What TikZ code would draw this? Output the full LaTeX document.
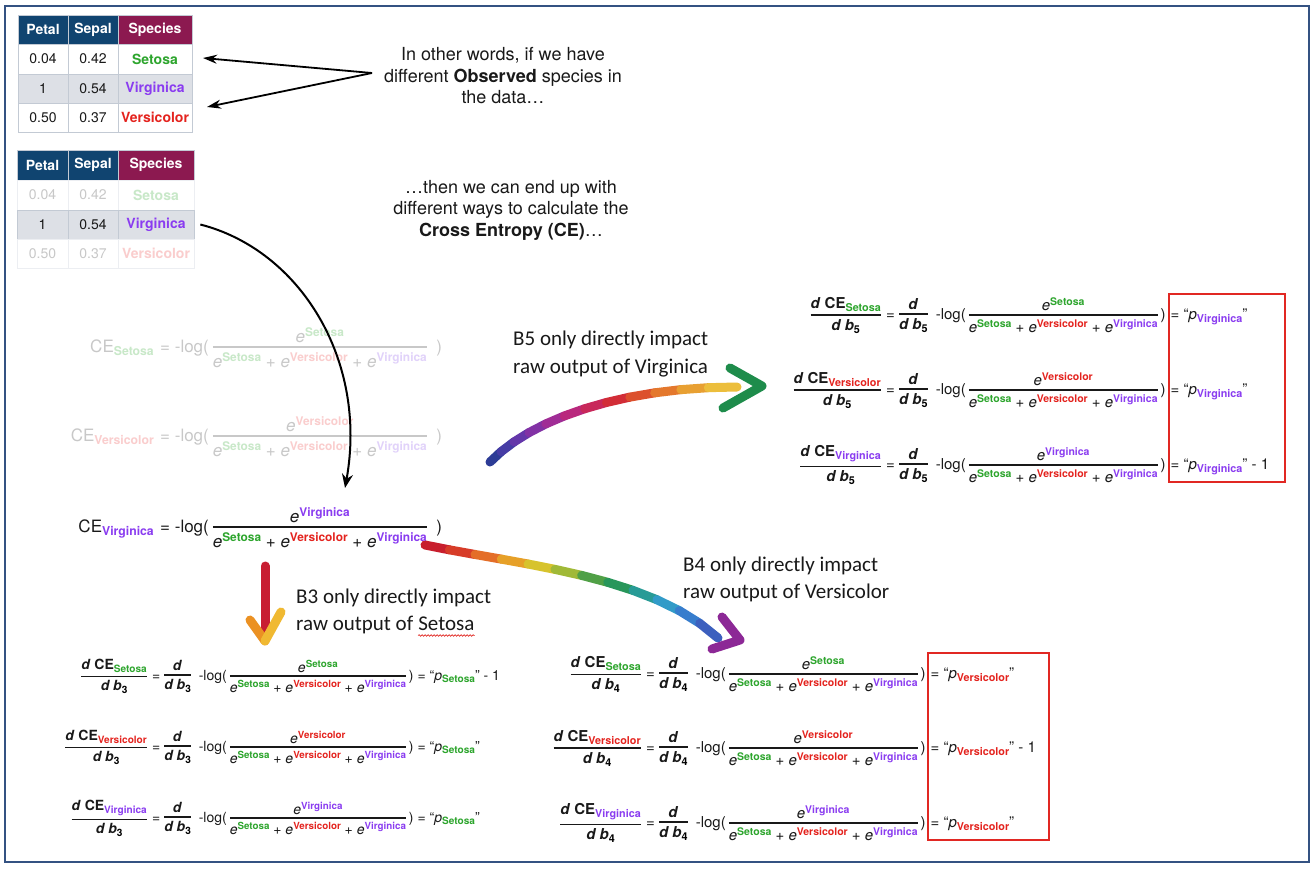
\documentclass[tikz,border=0pt]{standalone}
\usepackage{fontspec}
\setmainfont{TeX Gyre Heros}
\newfontfamily\carl{Carlito}
\usepackage{graphicx}
\usetikzlibrary{arrows.meta,decorations.pathmorphing}

\definecolor{cS}{RGB}{45,165,45}
\definecolor{cVe}{RGB}{228,35,30}
\definecolor{cVi}{RGB}{138,60,240}
\definecolor{cSl}{RGB}{200,232,200}
\definecolor{cVel}{RGB}{250,205,205}
\definecolor{cVil}{RGB}{225,210,250}
\definecolor{fadeg}{RGB}{200,200,200}
\definecolor{hdnavy}{RGB}{16,68,112}
\definecolor{hdmar}{RGB}{140,25,80}
\definecolor{rowg}{RGB}{221,224,230}
\definecolor{cellln}{RGB}{195,202,212}
\definecolor{cellfl}{RGB}{236,238,242}
\definecolor{frameb}{RGB}{52,82,130}
\definecolor{boxred}{RGB}{225,40,35}
\definecolor{txtk}{RGB}{25,25,25}

\newcommand\up[2]{\raisebox{.36em}{\scalebox{.7}{\bfseries\color{#1}#2}}}
\newcommand\dn[2]{\raisebox{-.2em}{\scalebox{.72}{\bfseries\color{#1}#2}}}
\newcommand\ex[2]{\textit{e}\up{#1}{#2}}
\newcommand\den{\ex{cS}{Setosa} + \ex{cVe}{Versicolor} + \ex{cVi}{Virginica}}
\newcommand\fr[2]{$\vcenter{\offinterlineskip\halign{\hfil##\hfil\cr #1\cr\noalign{\kern.22em\hrule height .11em\kern.25em}#2\cr}}$}
\newcommand\faded{\colorlet{cS}{cSl}\colorlet{cVe}{cVel}\colorlet{cVi}{cVil}}
\newcommand\dd{\textbf{\textit{d}}}
\newcommand\ddb[1]{\textbf{\textit{d b}}\dn{black}{#1}}
\newcommand\dCE[3]{\fr{\textbf{\textit{d} CE}\dn{#1}{#2}}{\ddb{#3}}}
% right part of a derivative row: #1 index, #2 numerator, #3 gap before "=", #4 result
\newcommand\drow[4]{= \fr{\dd}{\ddb{#1}}\hspace{4pt} -log(\hspace{3pt}\fr{#2}{\den}\hspace{3pt})\hspace{#3}= #4}
\newcommand\fCE{\fontsize{17}{20}\selectfont}
\newcommand\fD{\fontsize{15}{18}\selectfont}
\newcommand\fDs{\fontsize{14}{17}\selectfont}

\begin{document}
\begin{tikzpicture}[x=1pt,y=-1pt,
  cell/.style={draw=cellln, line width=.7pt, inner sep=0pt, text=txtk, font=\fontsize{14}{16}\selectfont, minimum height=29pt},
  hd/.style={cell, fill=hdnavy, text=white, font=\fontsize{14}{16}\selectfont\bfseries},
  spc/.style={font=\fontsize{14}{16}\selectfont\bfseries},
  fcell/.style={cell, draw=cellfl, text=fadeg},
  blk/.style={line width=1.8pt, -{Stealth[length=14pt,width=9pt]}},
  blkc/.style={line width=2pt, -{Stealth[length=14pt,width=11pt]}},
  eqL/.style={anchor=base east, inner sep=0pt, text=txtk},
  eqR/.style={anchor=base west, inner sep=0pt, text=txtk},
  blab/.style={inner sep=0pt, font=\carl\fontsize{21}{26}\selectfont, text=txtk},
  rb/.style={line width=9pt, line cap=round},
  rbh/.style={line width=9pt, line cap=round, line join=round},
  redbox/.style={draw=boxred, line width=2.2pt}]

\useasboundingbox (0,0) rectangle (1315,868);
\fill[white] (0,0) rectangle (1315,868);
\draw[frameb, line width=2.4pt] (5,6) rectangle (1309,862);

% ---------- table 1
\node[hd, minimum width=50pt] (a00) at (43,29.5) {Petal};
\node[hd, minimum width=50pt] (a01) at (93,29.5) {Sepal};
\node[hd, fill=hdmar, minimum width=74pt] (a02) at (155,29.5) {Species};
\node[cell, minimum width=50pt, minimum height=30pt] (a10) at (43,59) {0.04};
\node[cell, minimum width=50pt, minimum height=30pt] (a11) at (93,59) {0.42};
\node[cell, spc, text=cS, minimum width=74pt, minimum height=30pt] (a12) at (155,59) {Setosa};
\node[cell, fill=rowg, minimum width=50pt] (a20) at (43,88.5) {1};
\node[cell, fill=rowg, minimum width=50pt] (a21) at (93,88.5) {0.54};
\node[cell, spc, fill=rowg, text=cVi, minimum width=74pt] (a22) at (155,88.5) {Virginica};
\node[cell, minimum width=50pt] (a30) at (43,117.5) {0.50};
\node[cell, minimum width=50pt] (a31) at (93,117.5) {0.37};
\node[cell, spc, text=cVe, minimum width=74pt] (a32) at (155,117.5) {Versicolor};

% ---------- table 2
\node[hd, minimum width=51pt, minimum height=30pt] (b00) at (42.5,165) {Petal};
\node[hd, minimum width=50pt, minimum height=30pt] (b01) at (93,165) {Sepal};
\node[hd, fill=hdmar, minimum width=76pt, minimum height=30pt] (b02) at (156,165) {Species};
\node[fcell, minimum width=51pt, minimum height=30pt] (b10) at (42.5,195) {0.04};
\node[fcell, minimum width=50pt, minimum height=30pt] (b11) at (93,195) {0.42};
\node[fcell, spc, text=cSl, minimum width=76pt, minimum height=30pt] (b12) at (156,195) {Setosa};
\node[cell, fill=rowg, minimum width=51pt] (b20) at (42.5,224.5) {1};
\node[cell, fill=rowg, minimum width=50pt] (b21) at (93,224.5) {0.54};
\node[cell, spc, fill=rowg, text=cVi, minimum width=76pt] (b22) at (156,224.5) {Virginica};
\node[fcell, minimum width=51pt] (b30) at (42.5,253.5) {0.50};
\node[fcell, minimum width=50pt] (b31) at (93,253.5) {0.37};
\node[fcell, spc, text=cVel, minimum width=76pt] (b32) at (156,253.5) {Versicolor};

% ---------- texts
\node[font=\fontsize{18}{21.5}\selectfont, align=center, text=txtk] (txt1) at (503,76)
  {In other words, if we have\\different \textbf{Observed} species in\\the data…};
\node[font=\fontsize{18}{21.5}\selectfont, align=center, text=txtk] (txt2) at (511,210)
  {…then we can end up with\\different ways to calculate the\\\textbf{Cross Entropy (CE)}…};

\coordinate (apex) at (372,73);
\coordinate (tipA) at (203,58);
\coordinate (tipB) at (207,107);
\draw[blk] (apex) -- (tipA);
\draw[blk] (apex) -- (tipB);

% ---------- CE equations
\node[eqL, font=\fCE, text=fadeg] (ceSL) at (154,352) {\faded CE\dn{cS}{Setosa}};
\node[eqR, font=\fCE, text=fadeg] (ceSR) at (160,352) {\faded = -log(\hspace{4pt}\fr{\ex{cS}{Setosa}}{\den}\ \ )};
\node[eqL, font=\fCE, text=fadeg] (ceVeL) at (154,441) {\faded CE\dn{cVe}{Versicolor}};
\node[eqR, font=\fCE, text=fadeg] (ceVeR) at (160,441) {\faded = -log(\hspace{4pt}\fr{\ex{cVe}{Versicolor}}{\den}\ \ )};
\node[eqL, font=\fCE] (ceViL) at (154,532) {CE\dn{cVi}{Virginica}};
\node[eqR, font=\fCE] (ceViR) at (160,532) {= -log(\hspace{4pt}\fr{\ex{cVi}{Virginica}}{\den}\ \ )};

\coordinate (cearr) at (345,488);
\draw[blkc] ([xshift=6pt]b22.east) .. controls (300,250) and (368,360) .. (cearr);

% ---------- b5 group (right)
\node[eqL, font=\fD] (r51L) at (881,319) {\dCE{cS}{Setosa}{5}};
\node[eqR, font=\fD] (r51R) at (886,319) {\drow{5}{\ex{cS}{Setosa}}{5pt}{“\textit{p}\dn{cVi}{Virginica}”}};
\node[eqL, font=\fD] (r52L) at (881,394) {\dCE{cVe}{Versicolor}{5}};
\node[eqR, font=\fD] (r52R) at (886,394) {\drow{5}{\ex{cVe}{Versicolor}}{5pt}{“\textit{p}\dn{cVi}{Virginica}”}};
\node[eqL, font=\fD] (r53L) at (881,469) {\dCE{cVi}{Virginica}{5}};
\node[eqR, font=\fD] (r53R) at (886,469) {\drow{5}{\ex{cVi}{Virginica}}{5pt}{“\textit{p}\dn{cVi}{Virginica}” - 1}};
\draw[redbox] (1169,294) rectangle (1285,482);

% ---------- b3 group (bottom left)
\node[eqL, font=\fDs] (r31L) at (147,680) {\dCE{cS}{Setosa}{3}};
\node[eqR, font=\fDs] (r31R) at (152,680) {\drow{3}{\ex{cS}{Setosa}}{4pt}{“\textit{p}\dn{cS}{Setosa}” - 1}};
\node[eqL, font=\fDs] (r32L) at (147,751) {\dCE{cVe}{Versicolor}{3}};
\node[eqR, font=\fDs] (r32R) at (152,751) {\drow{3}{\ex{cVe}{Versicolor}}{4pt}{“\textit{p}\dn{cS}{Setosa}”}};
\node[eqL, font=\fDs] (r33L) at (147,822) {\dCE{cVi}{Virginica}{3}};
\node[eqR, font=\fDs] (r33R) at (152,822) {\drow{3}{\ex{cVi}{Virginica}}{4pt}{“\textit{p}\dn{cS}{Setosa}”}};

% ---------- b4 group (bottom right)
\node[eqL, font=\fD] (r41L) at (641,678) {\dCE{cS}{Setosa}{4}};
\node[eqR, font=\fD] (r41R) at (646,678) {\drow{4}{\ex{cS}{Setosa}}{5pt}{“\textit{p}\dn{cVe}{Versicolor}”}};
\node[eqL, font=\fD] (r42L) at (641,752) {\dCE{cVe}{Versicolor}{4}};
\node[eqR, font=\fD] (r42R) at (646,752) {\drow{4}{\ex{cVe}{Versicolor}}{5pt}{“\textit{p}\dn{cVe}{Versicolor}” - 1}};
\node[eqL, font=\fD] (r43L) at (641,827) {\dCE{cVi}{Virginica}{4}};
\node[eqR, font=\fD] (r43R) at (646,827) {\drow{4}{\ex{cVi}{Virginica}}{5pt}{“\textit{p}\dn{cVe}{Versicolor}”}};
\draw[redbox] (928,653) rectangle (1049,840);

% ---------- labels
\node[blab, anchor=west] (l5a) at (513,340) {B5 only directly impact};
\node[blab, anchor=west] (l5b) at (513,368) {raw output of Virginica};
\node[blab, anchor=west] (l4a) at (683,566) {B4 only directly impact};
\node[blab, anchor=west] (l4b) at (683,593) {raw output of Versicolor};
\node[blab, anchor=west] (l3a) at (296,598) {B3 only directly impact};
\node[blab, anchor=west] (l3b) at (296,625) {raw output of};
\node[blab, anchor=base west] (l3c) at ([xshift=4.7pt]l3b.base east) {Setosa};
\draw[boxred, line width=.7pt, decorate, decoration={snake, amplitude=.8pt, segment length=3pt}]
  ([yshift=-5pt]l3c.base west) -- ([yshift=-5pt]l3c.base east);

% ---------- rainbow arrow B5
\coordinate (b5s) at (490,462);
\coordinate (b5e) at (737,387);
\foreach \i in {0,...,12}{\pgfmathsetmacro\tt{\i/12}
  \path (b5s) .. controls (530,420) and (620,387) .. (b5e) coordinate[pos=\tt] (r5-\i);}
\foreach \ra/\ga/\ba [count=\i from 0] in {45/60/150,70/60/165,100/55/170,130/50/165,160/45/150,185/40/125,200/40/90,210/45/55,220/80/45,228/120/45,232/160/50,236/190/60}
  {\pgfmathtruncatemacro\j{\i+1}
   \draw[rb, draw={rgb,255:red,\ra;green,\ga;blue,\ba}] (r5-\i) -- (r5-\j);}
\coordinate (h5a) at (730,368);
\coordinate (h5b) at (762,386);
\coordinate (h5c) at (723,408);
\draw[rbh, draw={rgb,255:red,30;green,140;blue,75}] (h5a) -- (h5b) -- (h5c);

% ---------- rainbow arrow B4
\coordinate (b4s) at (425,545);
\coordinate (b4e) at (718,638);
\foreach \i in {0,...,12}{\pgfmathsetmacro\tt{\i/12}
  \path (b4s) .. controls (520,565) and (650,575) .. (b4e) coordinate[pos=\tt] (r4-\i);}
\foreach \ra/\ga/\ba [count=\i from 0] in {200/30/45,215/60/40,228/110/40,230/160/40,215/195/45,160/185/55,80/160/70,40/150/90,40/155/150,50/155/200,55/125/205,60/95/190}
  {\pgfmathtruncatemacro\j{\i+1}
   \draw[rb, draw={rgb,255:red,\ra;green,\ga;blue,\ba}] (r4-\i) -- (r4-\j);}
\coordinate (h4a) at (722,617);
\coordinate (h4b) at (740,640);
\coordinate (h4c) at (712,649);
\draw[rbh, draw={rgb,255:red,140;green,40;blue,150}] (h4a) -- (h4b) -- (h4c);

% ---------- arrow B3
\coordinate (b3s) at (265,566);
\coordinate (b3e) at (265,636);
\draw[rb, draw={rgb,255:red,200;green,30;blue,50}] (b3s) -- (b3e);
\coordinate (h3a) at (250,620);
\coordinate (h3b) at (265,641);
\coordinate (h3c) at (281,612);
\draw[rbh, draw={rgb,255:red,235;green,145;blue,35}] (h3a) -- (h3b);
\draw[rbh, draw={rgb,255:red,240;green,185;blue,50}] (h3b) -- (h3c);

\end{tikzpicture}
\end{document}
